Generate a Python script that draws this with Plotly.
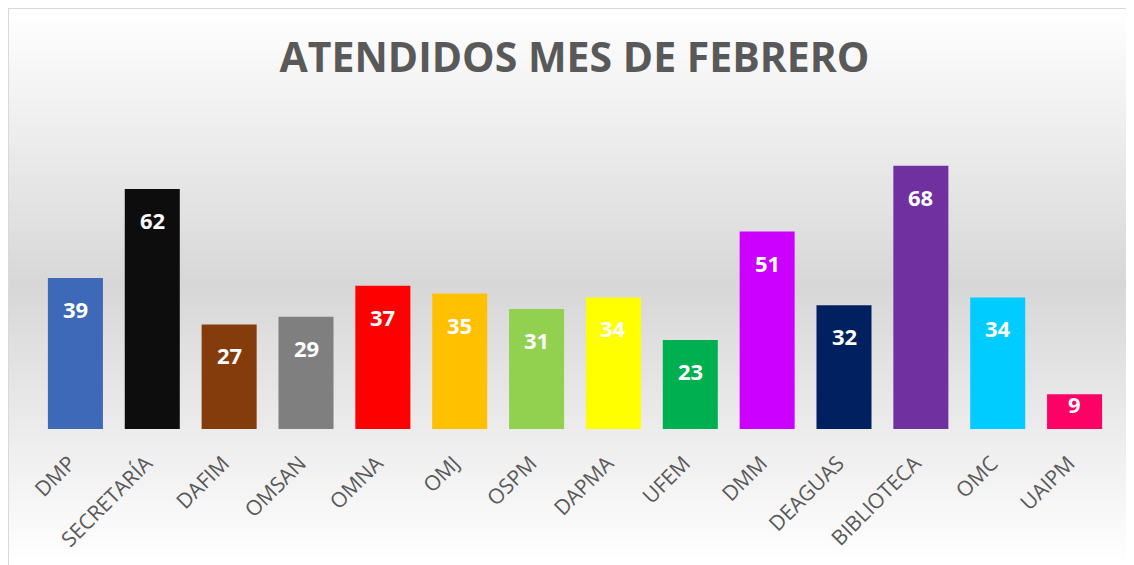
import plotly.graph_objects as go

categories = ["DMP", "SECRETARÍA", "DAFIM", "OMSAN", "OMNA", "OMJ", "OSPM",
              "DAPMA", "UFEM", "DMM", "DEAGUAS", "BIBLIOTECA", "OMC", "UAIPM"]
values = [39, 62, 27, 29, 37, 35, 31, 34, 23, 51, 32, 68, 34, 9]
colors = ["#3D69B8", "#0D0D0D", "#843C0C", "#7F7F7F", "#FF0000", "#FFC000", "#92D050",
          "#FFFF00", "#00B050", "#CC00FF", "#002060", "#7030A0", "#00CCFF", "#FF0066"]
title_text = "ATENDIDOS MES DE FEBRERO"

OFF = 8  # page body margin
W, H = 1134 - OFF, 565 - OFF
ML, MR, MT, MB = 29, 21, 92, 136
PW = W - ML - MR
PH = H - MT - MB
YMAX = 85


def px_x(rx):
    return (rx - OFF - ML) / PW


def px_y(ry):
    return (H - MB - (ry - OFF)) / PH


def grad_val(ry):
    top, mid, bot = 8, 285, 565
    dark = 215
    if ry <= top:
        return 255
    if ry <= mid:
        return 255 - (255 - dark) * (ry - top) / (mid - top)
    return dark + (255 - dark) * (ry - mid) / (bot - mid)


shapes = []
step = 4
ry = 8
while ry < 565:
    v = int(round(grad_val(ry + step / 2)))
    shapes.append(dict(type="rect", xref="paper", yref="paper", layer="below",
                       x0=px_x(8), x1=px_x(1140), y0=px_y(ry + step), y1=px_y(ry),
                       fillcolor=f"rgb({v},{v},{v})", line=dict(width=0)))
    ry += step

# frame lines (left and top)
shapes.append(dict(type="line", xref="paper", yref="paper", layer="above",
                   x0=px_x(8), x1=px_x(8), y0=px_y(7), y1=px_y(570),
                   line=dict(color="#D9D9D9", width=2)))
shapes.append(dict(type="line", xref="paper", yref="paper", layer="above",
                   x0=px_x(7), x1=px_x(1140), y0=px_y(8), y1=px_y(8),
                   line=dict(color="#D9D9D9", width=2)))

fig = go.Figure()
fig.add_trace(go.Bar(x=categories, y=values, marker=dict(color=colors, line=dict(width=0)),
                     hoverinfo="x+y"))

annotations = []
px_per_unit = PH / YMAX
for c, v in zip(categories, values):
    hpx = v * px_per_unit
    shift = -31 if hpx > 60 else -10
    annotations.append(dict(x=c, y=v, xref="x", yref="y", text=f"<b>{v}</b>",
                            showarrow=False, yanchor="middle", yshift=shift,
                            font=dict(family="Open Sans", size=22, color="#FFFFFF")))

fig.update_layout(
    width=W, height=H,
    margin=dict(l=ML, r=MR, t=MT, b=MB),
    paper_bgcolor="#FFFFFF",
    plot_bgcolor="rgba(0,0,0,0)",
    bargap=0.284,
    showlegend=False,
    title=dict(text=f"<b>{title_text}</b>", x=(574.5 - OFF) / W, xanchor="center",
               y=1 - (58 - OFF) / H, yanchor="middle", yref="container",
               font=dict(family="Open Sans", size=41, color="#595959")),
    xaxis=dict(tickangle=-45, showgrid=False, showline=False, zeroline=False,
               tickfont=dict(family="Open Sans", size=21, color="#595959"), ticks="",
               ticklabelstandoff=17, ticklabelshift=-6),
    yaxis=dict(range=[0, YMAX], visible=False, showgrid=False),
    shapes=shapes,
    annotations=annotations,
)

fig.write_html("out.html")
